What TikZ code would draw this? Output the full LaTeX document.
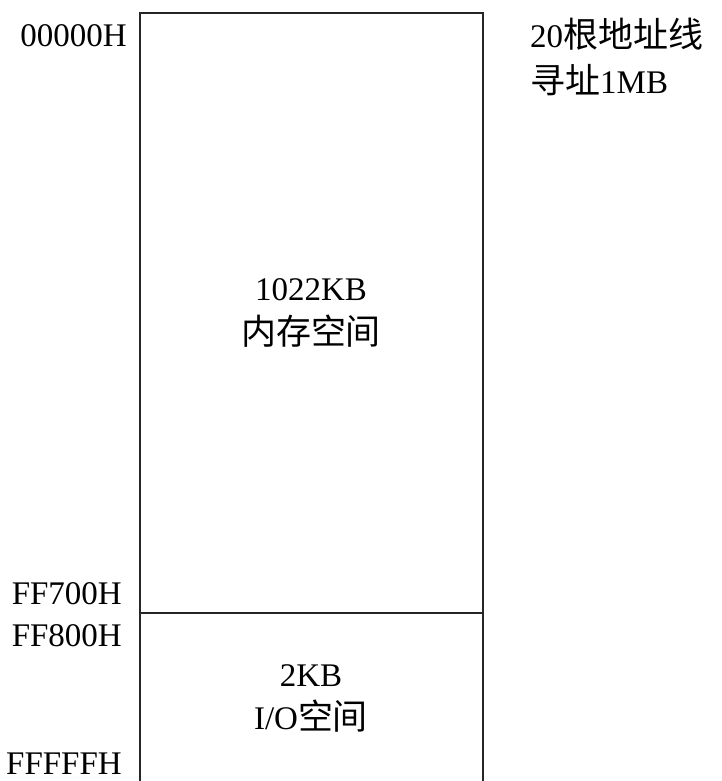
\documentclass[tikz,border=0pt]{standalone}
\usepackage{fontspec}
\setmainfont{Liberation Serif}
\newfontfamily\cjk[Scale=1.06]{Noto Sans CJK SC}
\begin{document}
\begin{tikzpicture}[x=1pt,y=-1pt,
  lbl/.style={inner sep=0pt,font=\fontsize{33}{40}\selectfont},
  box/.style={draw=black!85,line width=1.6pt}]
\useasboundingbox (0,0) rectangle (721,781);
\coordinate (tl) at (140,13);
\coordinate (tr) at (483,13);
\coordinate (bl) at (140,781);
\coordinate (br) at (483,781);
\coordinate (dl) at (140,613);
\coordinate (dr) at (483,613);
\draw[box] (bl) -- (tl) -- (tr) -- (br);
\draw[box] (dl) -- (dr);
\node[lbl,anchor=east] (a0) at (127,36) {00000H};
\node[lbl,anchor=east] (a1) at (122,594) {FF700H};
\node[lbl,anchor=east] (a2) at (122,636) {FF800H};
\node[lbl,anchor=east] (a3) at (122,764) {FFFFFH};
\node[lbl,anchor=west] (n1) at (530,34) {20{\cjk 根地址线}};
\node[lbl,anchor=west] (n2) at (530,80) {{\cjk 寻址}1MB};
\node[lbl] (m1) at (311,290) {1022KB};
\node[lbl] (m2) at (311,331) {\cjk 内存空间};
\node[lbl] (io1) at (311,676) {2KB};
\node[lbl] (io2) at (311,716) {I/O{\cjk 空间}};
\end{tikzpicture}
\end{document}
